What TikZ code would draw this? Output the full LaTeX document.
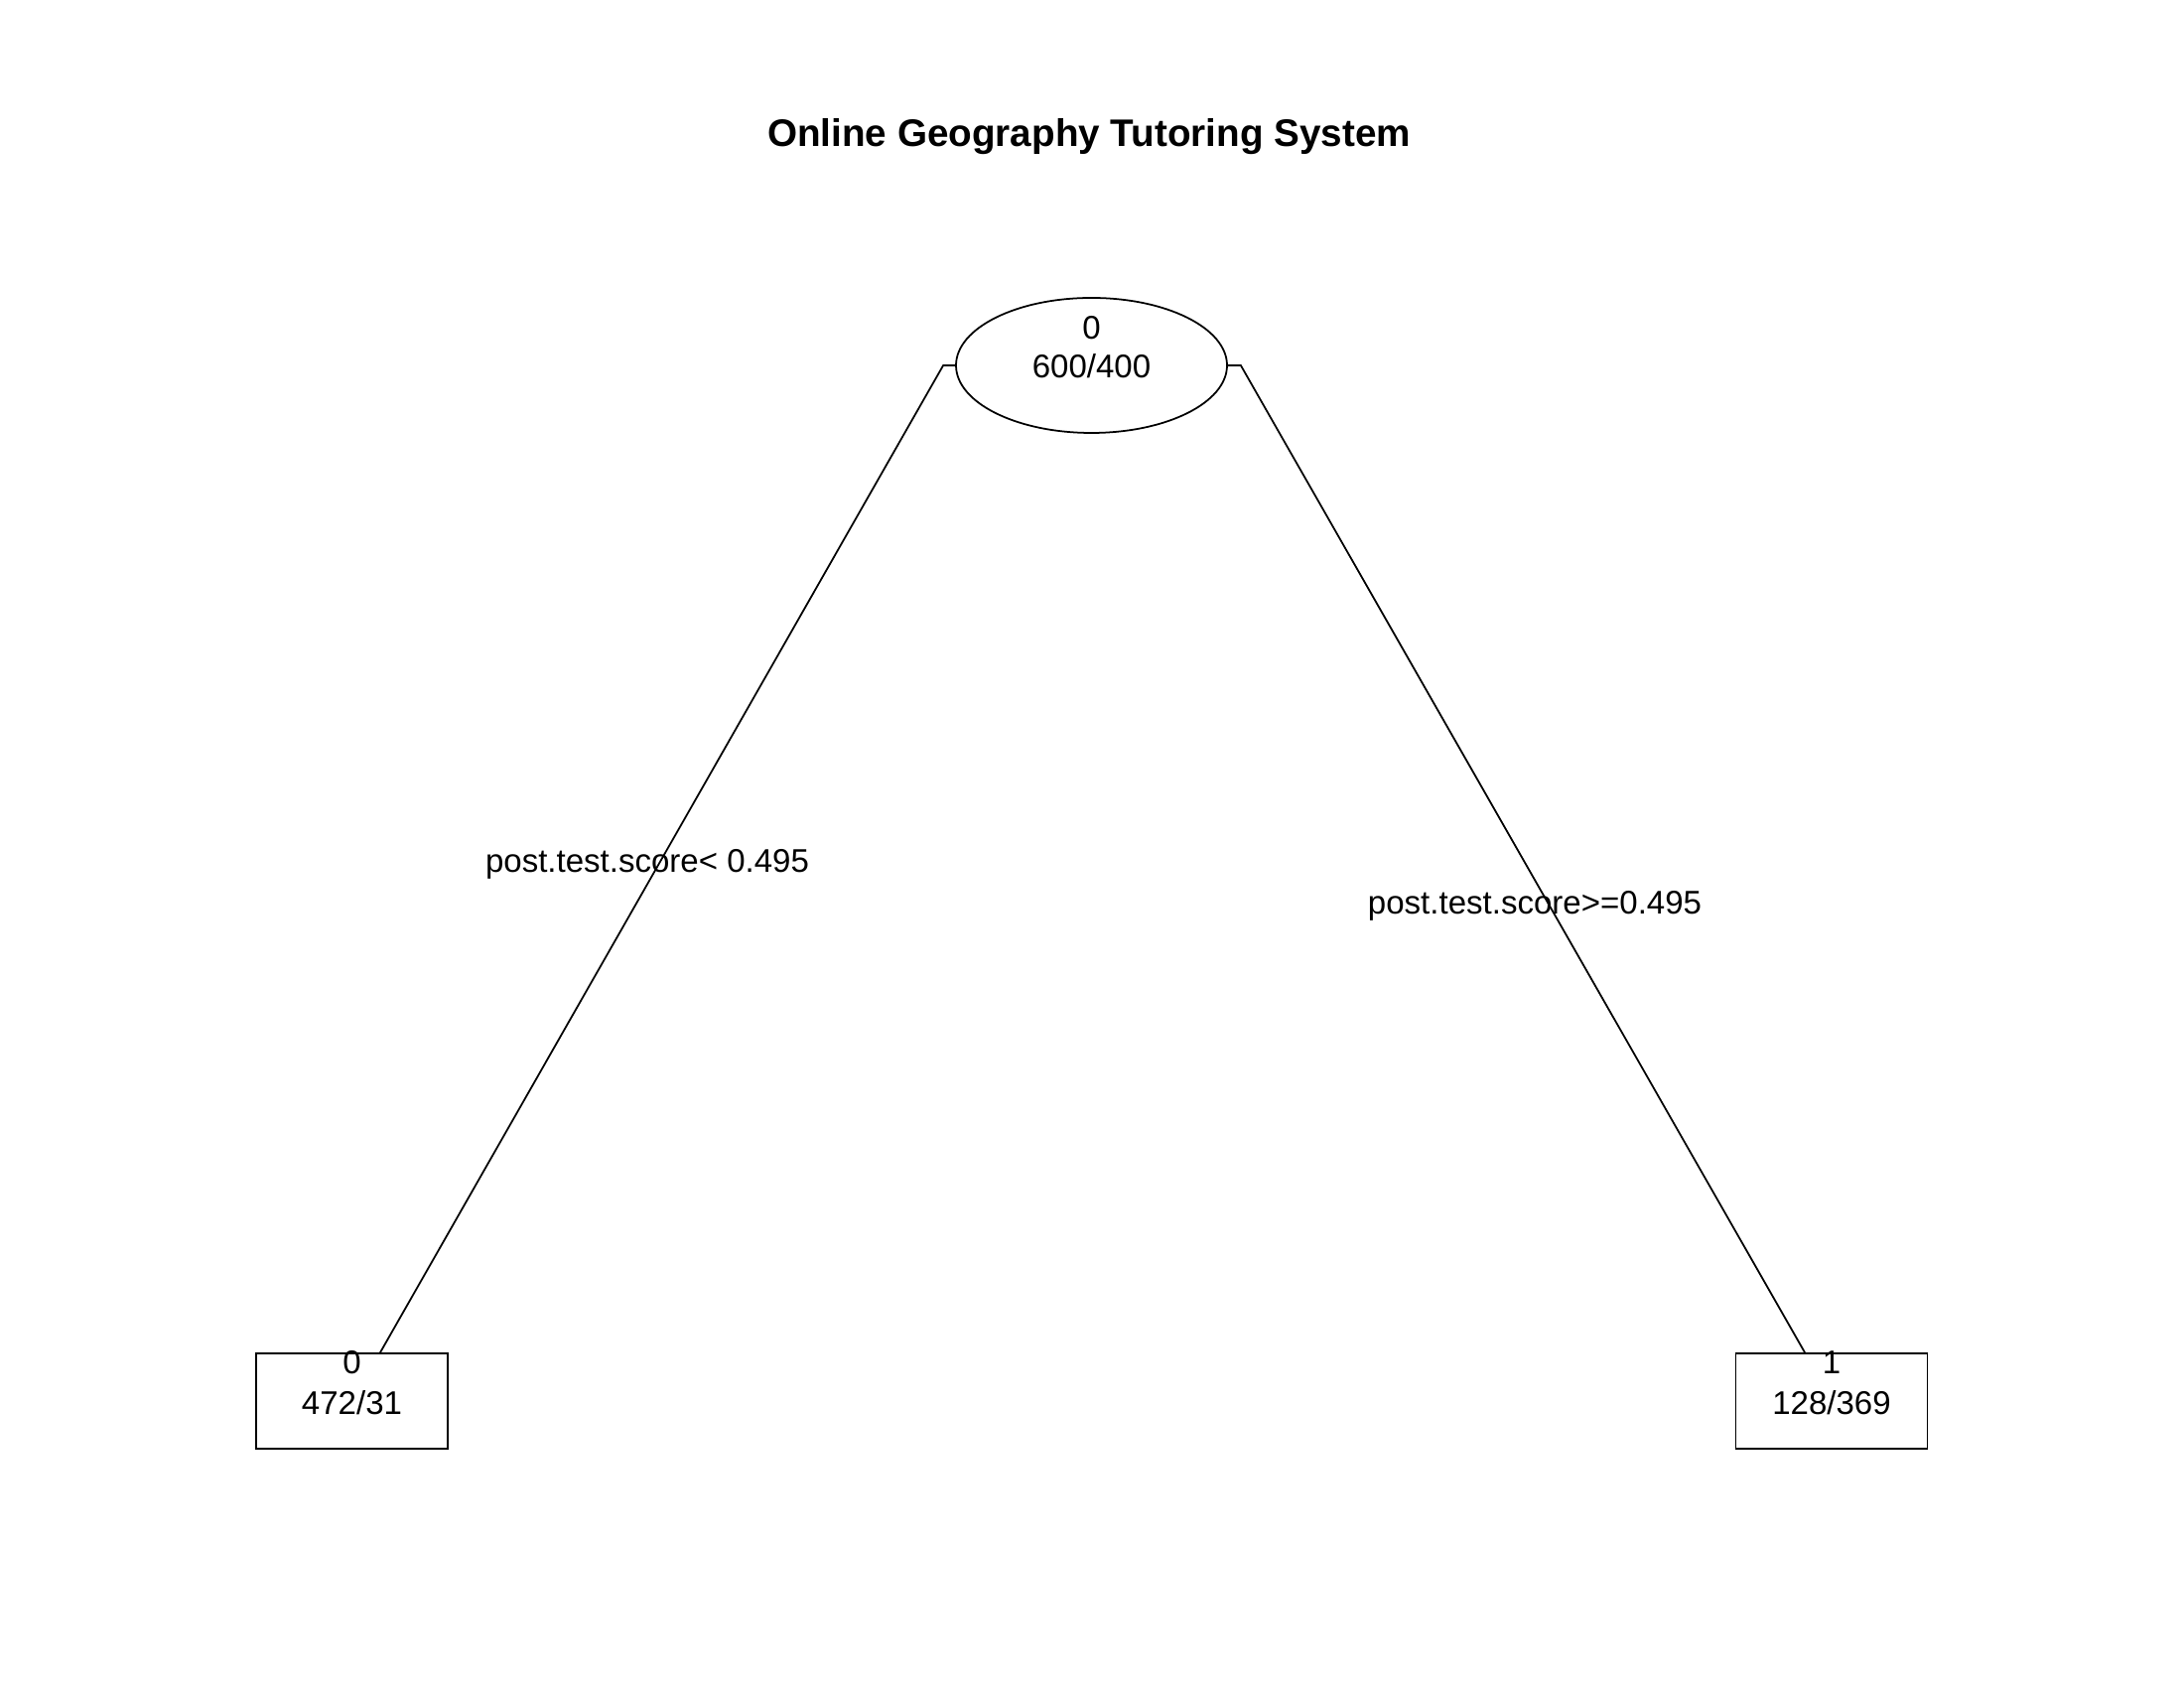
\documentclass[tikz,border=0pt]{standalone}
\usepackage{fontspec}
\setmainfont{Liberation Sans}
\usetikzlibrary{shapes.geometric,calc}
\begin{document}
\begin{tikzpicture}[x=1cm,y=1cm,
  line/.style={draw=black,line width=0.5pt},
  txt/.style={inner sep=0pt,font=\fontsize{9.4}{11}\selectfont},
  leaf/.style={draw=black,line width=0.5pt,minimum width=1.93cm,minimum height=0.96cm,inner sep=0pt},
  rootnode/.style={draw=black,line width=0.5pt,ellipse,minimum width=2.73cm,minimum height=1.36cm,inner sep=0pt}]
\useasboundingbox (0,0) rectangle (22,17);
\node[inner sep=0pt,font=\fontsize{11}{13}\selectfont\bfseries] (title) at (10.97,15.62) {Online Geography Tutoring System};
% root
\node[rootnode] (root) at (10.995,13.32) {};
\node[txt] (rootclass) at (10.995,13.70) {0};
\node[txt] (rootcount) at (10.995,13.315) {600/400};
% leaves
\node[leaf] (left) at (3.545,2.89) {};
\node[txt] (leftclass) at (3.545,3.28) {0};
\node[txt] (leftcount) at (3.545,2.875) {472/31};
\node[leaf] (right) at (18.45,2.89) {};
\node[txt] (rightclass) at (18.45,3.28) {1};
\node[txt] (rightcount) at (18.45,2.875) {128/369};
% connectors
\draw[line] (root.west) -- ++(-0.12,0) -- ($(left.north)+(0.285,0)$);
\draw[line] (root.east) -- ++(0.13,0) -- ($(right.north)+(-0.27,0)$);
% split labels
\node[txt] (leftsplit) at (6.52,8.30) {post.test.score< 0.495};
\node[txt] (rightsplit) at (15.46,7.88) {post.test.score>=0.495};
\end{tikzpicture}
\end{document}
